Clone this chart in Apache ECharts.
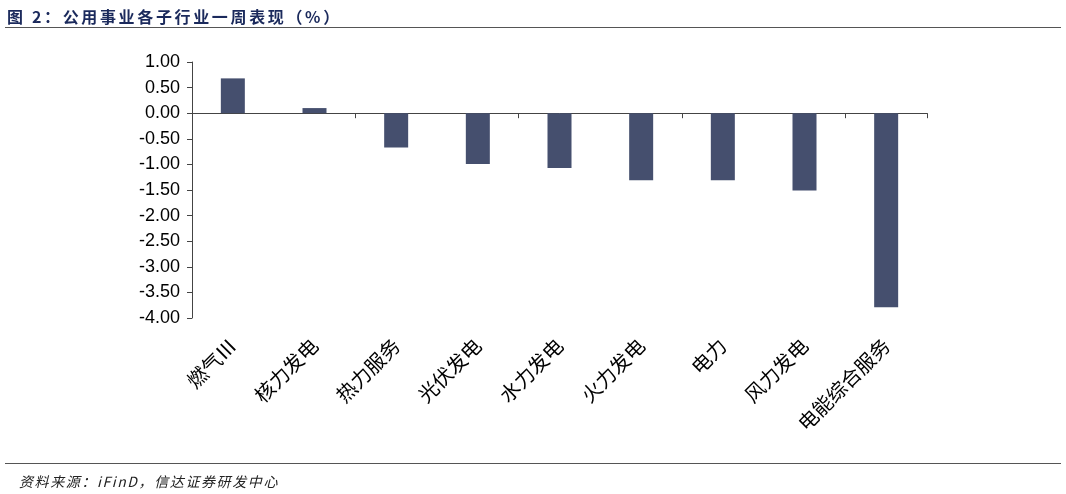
<!DOCTYPE html>
<html><head><meta charset="utf-8">
<script src="https://cdn.jsdelivr.net/npm/echarts@6/dist/echarts.min.js"></script>
<style>
html,body{margin:0;padding:0;background:#fff}
#wrap{position:relative;width:1066px;height:494px}
#c{position:absolute;left:0;top:0;width:1066px;height:494px}
#title{position:absolute;left:7px;top:4px;font:bold 16px "Noto Sans CJK SC";color:#1b2a5c;letter-spacing:2.65px;white-space:nowrap}
#src{position:absolute;left:19px;top:471px;font:italic 14px "Noto Sans CJK SC";color:#222;letter-spacing:1.6px;white-space:nowrap}
.rule{position:absolute;left:5px;width:1056px;height:1px;background:#555}
</style>
</head><body><div id="wrap"><div id="c"></div>
<div id="title"></div><div class="rule" style="top:27px"></div>
<div class="rule" style="top:463px"></div><div id="src"></div></div>
<script>
const categories = ['燃气Ⅲ','核力发电','热力服务','光伏发电','水力发电','火力发电','电力','风力发电','电能综合服务'];
const values = [0.68, 0.10, -0.67, -0.99, -1.07, -1.31, -1.31, -1.51, -3.79];
const titleText = '图 2：公用事业各子行业一周表现（%）';
const sourceText = '资料来源：iFinD，信达证券研发中心';

document.getElementById('title').textContent = titleText;
document.getElementById('src').textContent = sourceText;

const chart = echarts.init(document.getElementById('c'), null, {renderer:'canvas'});
chart.setOption({
  animation:false,
  grid:{left:192, right:139, top:62, bottom:176, containLabel:false},
  xAxis:[
    {type:'category', data:categories, position:'bottom',
     axisLine:{onZero:true, lineStyle:{color:'#444', width:1}},
     axisTick:{show:true, length:5, inside:false, lineStyle:{color:'#444'}},
     axisLabel:{show:false}},
    {type:'category', data:categories, position:'bottom',
     axisLine:{show:false}, axisTick:{show:false},
     axisLabel:{rotate:45, margin:24, fontSize:20, color:'#000', fontFamily:'"Noto Sans CJK SC"'}}
  ],
  yAxis:{type:'value', min:-4, max:1, interval:0.5,
     axisLine:{show:true, lineStyle:{color:'#444'}},
     axisTick:{show:true, length:5, lineStyle:{color:'#444'}},
     splitLine:{show:false},
     axisLabel:{formatter:v=>v.toFixed(2), fontSize:18, color:'#000', fontFamily:'"Liberation Sans", Arial', margin:12}},
  series:[{type:'bar', data:values, xAxisIndex:0, barWidth:24,
     itemStyle:{color:'#454f6e'}}]
});
</script></body></html>
